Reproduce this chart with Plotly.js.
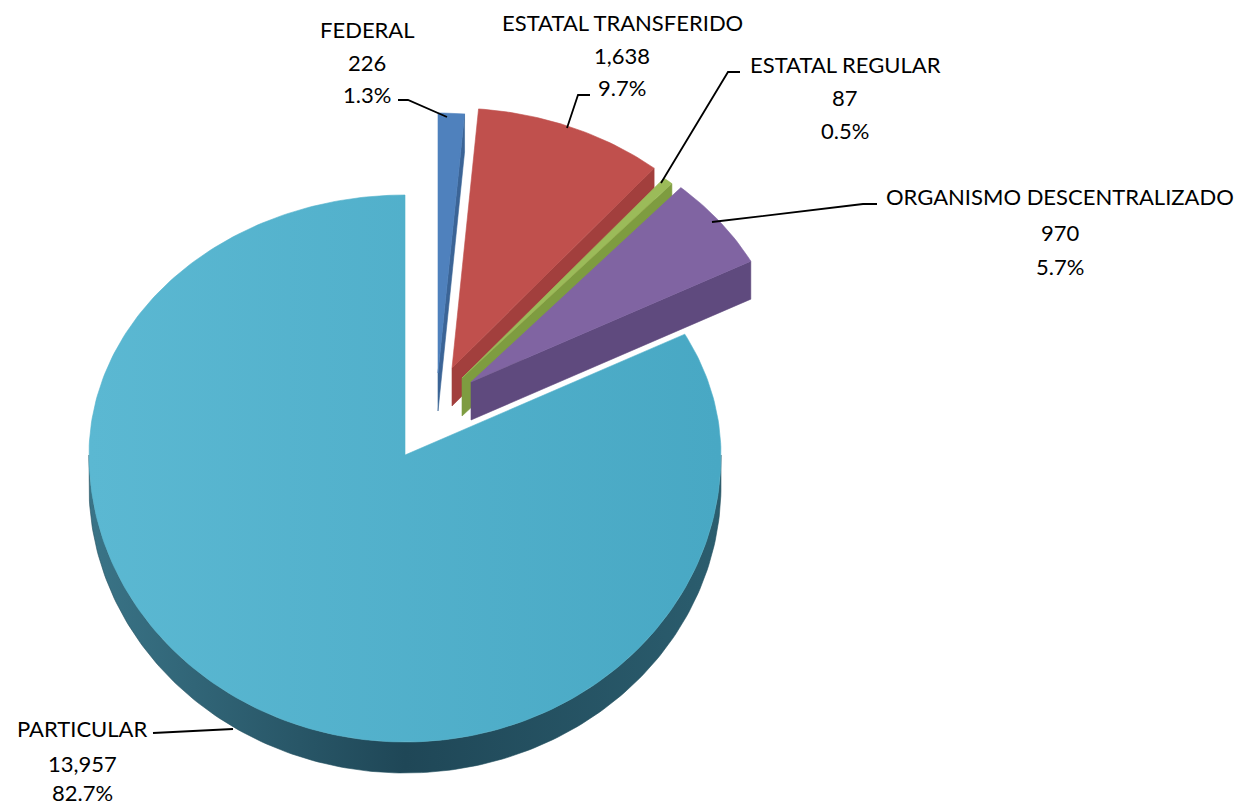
<!DOCTYPE html>
<html>
<head>
<meta charset="utf-8">
<script src="https://cdn.plot.ly/plotly-3.0.1.min.js"></script>
<style>html,body{margin:0;padding:0;background:#fff;}#chart{width:1243px;height:806px;}</style>
</head>
<body>
<div id="chart"></div>
<script>
// ---- data ----
const categories = ["FEDERAL", "ESTATAL TRANSFERIDO", "ESTATAL REGULAR", "ORGANISMO DESCENTRALIZADO", "PARTICULAR"];
const values = [226, 1638, 87, 970, 13957];

// ---- style ----
const topColors  = ["#4F81BD", "#C0504D", "#9BBB59", "#8064A2", "#52B1CB"];
const sideColors = ["#3B6496", "#A23F3D", "#7E9C40", "#5F4A7E", "#24505F"];
const CX = 405, CY = 455, RX = 316, RY_TOP = 260, RY_BOT = 287;
const explode = [[33, -82], [47, -87], [57, -77], [66, -73], [0, 0]];
const depth = [38, 38, 38, 38, 31];
const labelPos = [[367, 29, 62, 94], [622, 22, 55, 87], [845, 64, 97, 130], [1060, 196, 232, 266], [82, 728, 763, 792]];
const leaders = [
  "M398,100 L408,100 L447,117",
  "M590,95 L578,95 L567,128",
  "M740,72 L728,72 L661,183",
  "M877,204 L863,204 L712,222",
  "M153,733 L233,729"
];
const FONT = "Lato, 'Liberation Sans', sans-serif";

// ---- geometry ----
const total = values.reduce((a, b) => a + b, 0);
const rad = d => d * Math.PI / 180;
function pt(theta, r, off, dz) {
  const t = rad(theta);
  const c = Math.cos(t);
  const ry = c >= 0 ? RY_TOP : RY_BOT;
  return [CX + off[0] + r * RX * Math.sin(t), CY + off[1] - r * ry * c + dz];
}
function arc(a0, a1, off, dz) {
  const n = Math.max(2, Math.ceil(Math.abs(a1 - a0) / 1));
  const out = [];
  for (let k = 0; k <= n; k++) out.push(pt(a0 + (a1 - a0) * k / n, 1, off, dz));
  return out;
}
function poly(points, fill, grad) {
  const tr = {
    type: "scatter", mode: "lines",
    x: points.map(p => p[0]), y: points.map(p => p[1]),
    fill: "toself", fillcolor: fill,
    line: {width: 0.6, color: fill},
    hoverinfo: "skip", showlegend: false
  };
  if (grad) { tr.fillgradient = {type: "horizontal", colorscale: grad}; }
  return tr;
}

const traces = [];
let cum = 0;
const angles = values.map(v => { const a0 = cum / total * 360; cum += v; return [a0, cum / total * 360]; });

function sliceTraces(i) {
  const [a0, a1] = angles[i];
  const off = explode[i], d = depth[i];
  const C = pt(0, 0, off, 0), Cd = pt(0, 0, off, d);
  const out = [];
  // rim (front half)
  const lo = Math.max(a0, 90), hi = Math.min(a1, 270);
  if (hi > lo) {
    const topArc = arc(lo, hi, off, 0);
    const botArc = arc(lo, hi, off, d).reverse();
    const grad = i === 4 ? [[0, "#3A7487"], [0.5, "#1F4757"], [1, "#2B5D6E"]] : null;
    out.push(poly(topArc.concat(botArc, [topArc[0]]), sideColors[i], grad));
  }
  // cut faces
  if (Math.sin(rad(a1)) > 0.001) {
    const R = pt(a1, 1, off, 0), Rd = pt(a1, 1, off, d);
    out.push(poly([C, R, Rd, Cd, C], sideColors[i]));
  }
  if (Math.sin(rad(a0)) < -0.001) {
    const R = pt(a0, 1, off, 0), Rd = pt(a0, 1, off, d);
    out.push(poly([C, R, Rd, Cd, C], sideColors[i]));
  }
  // top
  const topPts = [C].concat(arc(a0, a1, off, 0), [C]);
  const tgrad = i === 4 ? [[0, "#5BB8D2"], [1, "#48A8C4"]] : null;
  out.push(poly(topPts, topColors[i], tgrad));
  return out;
}
[0, 1, 2, 3, 4].forEach(i => sliceTraces(i).forEach(t => traces.push(t)));

// ---- labels ----
const annotations = [];
categories.forEach((c, i) => {
  const pct = (values[i] / total * 100).toFixed(1) + "%";
  const lines = [c, values[i].toLocaleString("en-US"), pct];
  const p = labelPos[i];
  lines.forEach((txt, k) => {
    annotations.push({
      x: p[0], y: p[k + 1], xref: "x", yref: "y", text: txt, showarrow: false,
      xanchor: "center", yanchor: "middle",
      font: {family: FONT, size: 22, color: "#000000"}
    });
  });
});
const shapes = leaders.map(path => ({type: "path", path: path, xref: "x", yref: "y", line: {color: "#000000", width: 1.8}}));

const layout = {
  width: 1243, height: 806,
  margin: {l: 0, r: 0, t: 0, b: 0, pad: 0},
  paper_bgcolor: "#ffffff", plot_bgcolor: "#ffffff",
  xaxis: {range: [0, 1243], visible: false, fixedrange: true},
  yaxis: {range: [806, 0], visible: false, fixedrange: true},
  showlegend: false,
  annotations: annotations,
  shapes: shapes,
  hovermode: false
};
Plotly.newPlot("chart", traces, layout, {displayModeBar: false, staticPlot: true});
</script>
</body>
</html>
